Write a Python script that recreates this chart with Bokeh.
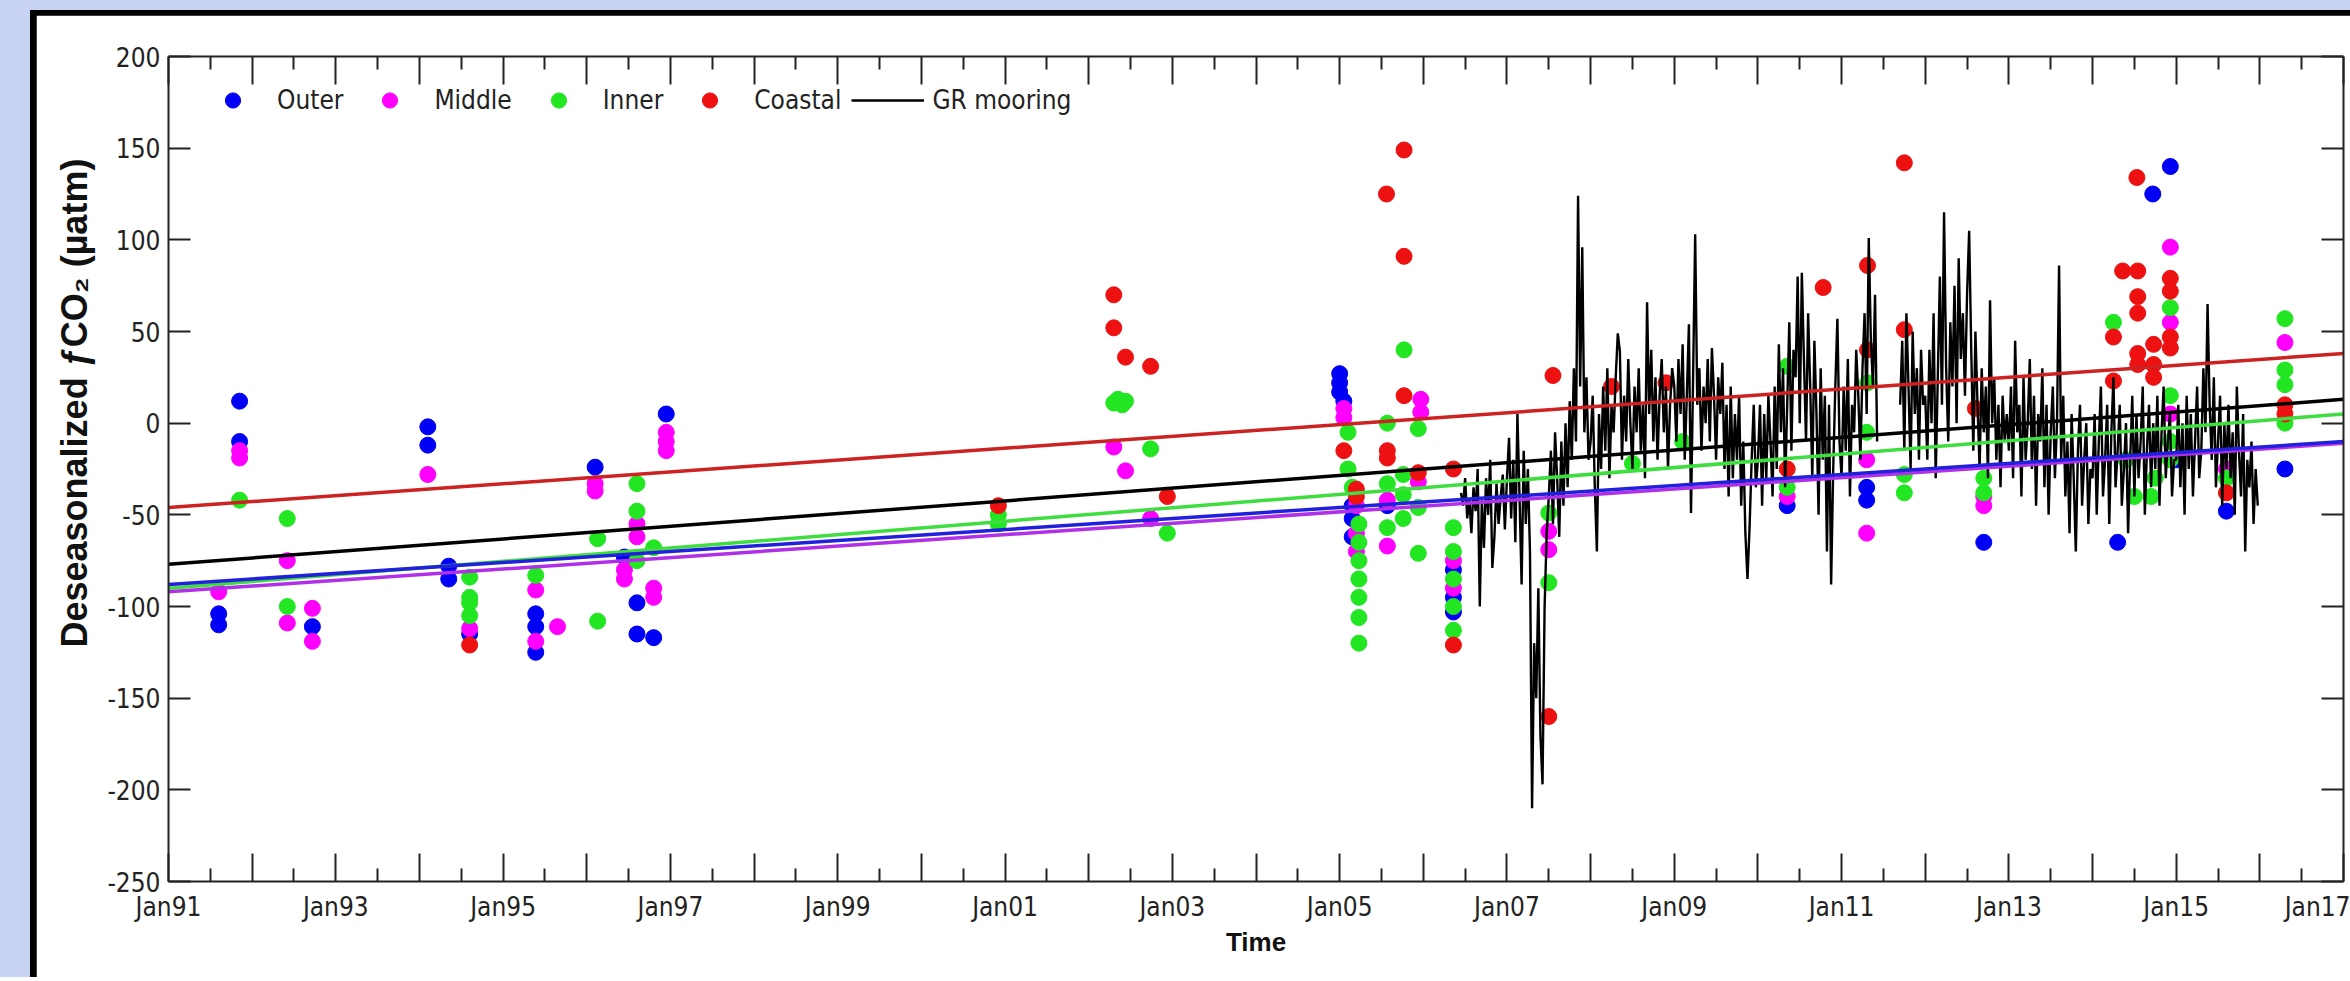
from bokeh.plotting import figure
from bokeh.models import (FixedTicker, LinearAxis, Legend, LegendItem, Title, Range1d)
from bokeh.layouts import column
from bokeh.embed import file_html
from bokeh.resources import INLINE

nan = float("nan")

# ---------------- data ----------------
x_tick_years = list(range(1991, 2018))
x_tick_labels = ["Jan91", "Jan93", "Jan95", "Jan97", "Jan99", "Jan01", "Jan03",
                 "Jan05", "Jan07", "Jan09", "Jan11", "Jan13", "Jan15", "Jan17"]
y_ticks = [-250, -200, -150, -100, -50, 0, 50, 100, 150, 200]
y_tick_labels = ["-250", "-200", "-150", "-100", "-50", "0", "50", "100", "150", "200"]

outer_year = [1991.6, 1991.6, 1991.85, 1991.85, 1992.72, 1994.1, 1994.1, 1994.35, 1994.35,
              1994.6, 1995.39, 1995.39, 1995.39, 1996.1, 1996.45, 1996.6, 1996.6, 1996.8, 1996.95,
              2005.0, 2005.0, 2005.0, 2005.05, 2005.15, 2005.15, 2005.15, 2005.57, 2006.36, 2006.36,
              2006.36, 2010.35, 2011.3, 2011.3, 2012.7, 2014.3, 2014.72, 2014.93, 2015.0, 2015.6, 2016.3]
outer_value = [-104, -110, 12, -10, -111, -2, -12, -78, -85,
               -115, -104, -111, -125, -24, -73, -98, -115, -117, 5,
               27, 22, 17, 12, -45, -52, -62, -45, -80, -95,
               -103, -45, -42, -35, -65, -65, 125, 140, -20, -48, -25]

middle_year = [1991.6, 1991.85, 1991.85, 1992.42, 1992.42, 1992.72, 1992.72, 1994.1, 1994.6, 1995.39,
               1995.39, 1995.65, 1996.1, 1996.1, 1996.45, 1996.45, 1996.6, 1996.6, 1996.8, 1996.8,
               1996.95, 1996.95, 1996.95, 2002.3, 2002.44, 2002.74, 2005.05, 2005.05, 2005.2, 2005.2,
               2005.2, 2005.57, 2005.57, 2005.97, 2005.97, 2005.94, 2006.36, 2006.36, 2007.5, 2007.5,
               2010.35, 2011.3, 2011.3, 2012.7, 2012.7, 2014.93, 2014.93, 2014.93, 2015.6, 2016.3]
middle_value = [-92, -15, -19, -75, -109, -101, -119, -28, -112, -91,
                -119, -111, -33, -37, -80, -85, -55, -62, -90, -95,
                -5, -10, -15, -13, -26, -52, 8, 3, -45, -60,
                -70, -42, -67, 13, 6, -32, -75, -90, -59, -69,
                -40, -20, -60, -45, -40, 96, 55, 5, -25, 44]

inner_year = [1991.85, 1992.42, 1992.42, 1994.6, 1994.6, 1994.6, 1994.6, 1995.39, 1996.13, 1996.13,
              1996.6, 1996.6, 1996.6, 1996.8, 2000.92, 2000.92, 2002.3, 2002.35, 2002.4, 2002.44,
              2002.74, 2002.94, 2005.1, 2005.1, 2005.15, 2005.23, 2005.23, 2005.23, 2005.23, 2005.23,
              2005.23, 2005.23, 2005.57, 2005.57, 2005.57, 2005.77, 2005.76, 2005.76, 2005.76, 2005.94,
              2005.94, 2005.94, 2006.36, 2006.36, 2006.36, 2006.36, 2006.36, 2007.5, 2007.5, 2008.5,
              2009.1, 2010.35, 2010.35, 2011.31, 2011.3, 2011.75, 2011.75, 2012.7, 2012.7, 2014.25,
              2014.4, 2014.5, 2014.7, 2014.75, 2014.93, 2014.93, 2014.93, 2014.93, 2015.6, 2016.3,
              2016.3, 2016.3, 2016.3]
inner_value = [-42, -52, -100, -84, -95, -98, -105, -83, -63, -108,
               -33, -48, -75, -68, -55, -50, 11, 13, 10, 12,
               -14, -60, -5, -25, -35, -55, -65, -75, -85, -95,
               -106, -120, 0, -33, -57, 40, -28, -39, -52, -3,
               -46, -71, -57, -70, -85, -100, -113, -49, -87, -22,
               -10, 31, -35, 22, -5, -38, -28, -30, -38, 55,
               -20, -40, -40, -30, 63, 15, -10, -20, -30, 57,
               29, 21, 0]

coastal_year = [1994.6, 2000.92, 2002.3, 2002.3, 2002.44, 2002.74, 2002.94, 2005.05, 2005.2, 2005.2,
                2005.56, 2005.77, 2005.77, 2005.77, 2005.57, 2005.57, 2005.94, 2006.36, 2006.36, 2007.55,
                2007.5, 2008.25, 2008.9, 2010.35, 2010.78, 2011.31, 2011.31, 2011.75, 2011.75, 2012.6,
                2014.25, 2014.25, 2014.36, 2014.54, 2014.53, 2014.54, 2014.54, 2014.54, 2014.54, 2014.73,
                2014.73, 2014.73, 2014.93, 2014.93, 2014.93, 2014.93, 2015.6, 2016.3, 2016.3]
coastal_value = [-121, -45, 70, 52, 36, 31, -40, -15, -36, -40,
                 125, 149, 91, 15, -15, -19, -27, -25, -121, 26,
                 -160, 20, 22, -25, 74, 86, 40, 142, 51, 8,
                 47, 23, 83, 83, 134, 69, 60, 38, 32, 43,
                 32, 25, 79, 72, 47, 41, -38, 10, 5]

# GR mooring: values sampled every 0.025 yr, one list per year (first one starts 2006.45)
mooring_step = 0.025
mooring_starts = [2006.45, 2007.0, 2008.0, 2009.0, 2010.0, 2011.0, 2012.0, 2013.0, 2014.0, 2015.0]
mooring_2006 = [-38, -45, -30, -52, -41, -60, -35, -48, -25, -100, -42, -68, -30, -50, -20, -79,
                -62, -33, -55, -40, -28, -58]
mooring_2007 = [-30, -8, -52, -20, -65, 5, -40, -88, -15, -55, -25, -70, -210, -120, -150, -90,
                -170, -197, -100, -60, -40, -15, -55, -5, -30, -62, -10, -45, 0, -35, 12, -20,
                30, -10, 124, 20, 96, -5, 25, -20]
mooring_2008 = [-10, 15, -35, -70, 5, -25, 20, -15, 30, -30, 10, -5, 25, 49, 39, -20, 15, -10,
                35, 0, -25, 20, -5, 30, -15, 10, -30, 66, 5, 40, -10, 25, -20, 15, 35, -5, 20,
                -25, 10, 30]
mooring_2009 = [20, -10, 35, 5, 43, -20, 15, 54, -49, 25, 103, 10, 30, -15, 20, 0, 35, -10, 41,
                15, -20, 25, 5, 33, -25, 10, -40, 20, -30, 5, -20, 15, -45, -10, -60, -85, -57,
                -20, 10, -35]
mooring_2010 = [-20, 10, -45, 5, -30, 15, -10, -40, 20, -25, 43, -5, 30, -35, 10, 55, -15, 40,
                25, 80, 0, 82, 35, -10, 60, 20, -30, 45, 5, -50, 30, -20, 15, -70, 10, -88, -25,
                20, 57, -10]
mooring_2011 = [-30, 20, -15, 35, -40, 10, -5, 40, 15, -20, 30, 60, 5, 101, 45, 20, 70, -10,
                nan, nan, nan, nan, nan, nan, nan, nan, nan, nan,
                10, 45, -15, 60, 20, -25, 50, 5, 30, -20, 40, 10]
mooring_2012 = [15, -20, 40, 0, 60, -30, 25, 80, 10, 115, 30, -10, 55, 20, 75, 0, 90, 35, 60,
                15, 70, 105, 40, -15, 50, 10, -25, 30, -5, 20, -30, 67, 0, 25, -20, 10, -35, 15,
                -10, 5]
mooring_2013 = [-15, 20, -30, 45, -5, 10, -40, 25, -20, 0, 35, -25, 15, -45, 5, -10, 30, -35,
                10, -50, -5, 20, -30, 0, 86, -20, 15, -40, -10, -60, 5, -30, -70, -15, 10, -45,
                -20, 0, -55, -25]
mooring_2014 = [-30, 5, -50, -10, 20, -40, -20, 10, -55, -5, 25, -35, -15, 10, -45, -25, 0, -60,
                -20, 15, -40, 5, -30, -10, 20, -50, -15, 10, -35, 0, -25, 15, -45, -5, 20, -30,
                -10, 5, -40, -20]
mooring_2015 = [-20, 10, -35, 0, -50, 15, -25, 5, -40, -10, 20, -30, -15, 30, -5, 65, 10, -20,
                25, -35, -10, 15, -45, 0, -25, 10, -30, -5, -50, 20, -15, -40, 5, -70, -20, -35,
                -10, -55, -25, -45]
mooring_segments = [mooring_2006, mooring_2007, mooring_2008, mooring_2009, mooring_2010,
                    mooring_2011, mooring_2012, mooring_2013, mooring_2014, mooring_2015]

# linear trends (value at Jan91 and at Jan17)
trend_years = [1991, 2017]
outer_trend = [-88, -10]
middle_trend = [-92, -11]
inner_trend = [-90, 5]
coastal_trend = [-46, 38]
mooring_trend = [-77, 13]

# ---------------- styling ----------------
NARROW = "DejaVu Sans Condensed, Liberation Sans, sans-serif"
SANS = "Liberation Sans"
C_OUTER = "#0000F5"
C_MIDDLE = "#FF00FF"
C_INNER = "#22E622"
C_COASTAL = "#EE1111"
AX = "#222222"

p = figure(width=2314, height=962, x_range=Range1d(1991, 2017), y_range=Range1d(-250, 200),
           output_backend="svg", toolbar_location=None,
           min_border_left=132, min_border_right=7, min_border_top=41, min_border_bottom=96)
p.margin = (5, 0, 0, 6)
p.background_fill_color = "white"
p.border_fill_color = "white"
p.outline_line_color = None
p.xgrid.visible = False
p.ygrid.visible = False

x_overrides = {}
for i, yr in enumerate(x_tick_years):
    x_overrides[yr] = x_tick_labels[i // 2] if (yr - x_tick_years[0]) % 2 == 0 else ""
x_minor = [yr + 0.5 for yr in x_tick_years[:-1]]
y_overrides = {t: lab for t, lab in zip(y_ticks, y_tick_labels)}

def style_x(ax, labels=True):
    ax.ticker = FixedTicker(ticks=x_tick_years, minor_ticks=x_minor)
    ax.major_tick_in = 28
    ax.major_tick_out = 0
    ax.minor_tick_in = 13
    ax.minor_tick_out = 0
    ax.axis_line_color = AX
    ax.axis_line_width = 2
    ax.major_tick_line_color = AX
    ax.major_tick_line_width = 2
    ax.minor_tick_line_color = AX
    ax.minor_tick_line_width = 2
    if labels:
        ax.major_label_overrides = x_overrides
        ax.major_label_text_font = NARROW
        ax.major_label_text_font_size = "26px"
        ax.major_label_text_color = "#222222"
        ax.major_label_standoff = 10
    else:
        ax.major_label_overrides = {yr: "" for yr in x_tick_years}
        ax.major_label_text_color = None
        ax.major_label_standoff = 0

def style_y(ax, labels=True):
    ax.ticker = FixedTicker(ticks=y_ticks, minor_ticks=[])
    ax.major_tick_in = 22
    ax.major_tick_out = 0
    ax.minor_tick_in = 0
    ax.minor_tick_out = 0
    ax.axis_line_color = AX
    ax.axis_line_width = 2
    ax.major_tick_line_color = AX
    ax.major_tick_line_width = 2
    if labels:
        ax.major_label_overrides = y_overrides
        ax.major_label_text_font = NARROW
        ax.major_label_text_font_size = "26px"
        ax.major_label_text_color = "#222222"
        ax.major_label_standoff = 8
    else:
        ax.major_label_overrides = {t: "" for t in y_ticks}
        ax.major_label_text_color = None
        ax.major_label_standoff = 0

style_x(p.xaxis[0])
style_y(p.yaxis[0])
p.xaxis[0].axis_label = "Time"
p.xaxis[0].axis_label_text_font = SANS
p.xaxis[0].axis_label_text_font_style = "bold"
p.xaxis[0].axis_label_text_font_size = "26px"
p.xaxis[0].axis_label_text_color = "#111111"
p.xaxis[0].axis_label_standoff = 2

top_ax = LinearAxis()
style_x(top_ax, labels=False)
p.add_layout(top_ax, "above")
right_ax = LinearAxis()
style_y(right_ax, labels=False)
p.add_layout(right_ax, "right")

ylab = Title(text="Deseasonalized \u0192CO\u2082 (\u00b5atm)", align="left", offset=234, standoff=20,
             text_font=SANS, text_font_style="bold", text_font_size="36px", text_color="#111111")
p.add_layout(ylab, "left")

# scatter points
r_outer = p.scatter(outer_year, outer_value, marker="circle", size=16,
                    fill_color=C_OUTER, line_color=C_OUTER)
r_middle = p.scatter(middle_year, middle_value, marker="circle", size=16,
                     fill_color=C_MIDDLE, line_color=C_MIDDLE)
r_inner = p.scatter(inner_year, inner_value, marker="circle", size=16,
                    fill_color=C_INNER, line_color=C_INNER)
r_coastal = p.scatter(coastal_year, coastal_value, marker="circle", size=16,
                      fill_color=C_COASTAL, line_color=C_COASTAL)

# mooring time series
m_x, m_y = [], []
for start, seg in zip(mooring_starts, mooring_segments):
    for i, v in enumerate(seg):
        m_x.append(start + i * mooring_step)
        m_y.append(v)
r_moor = p.line(m_x, m_y, line_color="black", line_width=2.4)

# trend lines
p.line(trend_years, coastal_trend, line_color="#CC2222", line_width=3.5)
p.line(trend_years, mooring_trend, line_color="black", line_width=3.5)
p.line(trend_years, inner_trend, line_color="#3FDD3F", line_width=3.5)
p.line(trend_years, middle_trend, line_color="#B030E8", line_width=3.5)
p.line(trend_years, outer_trend, line_color="#2020DD", line_width=3.5)

legend = Legend(items=[LegendItem(label="Outer", renderers=[r_outer]),
                       LegendItem(label="Middle", renderers=[r_middle]),
                       LegendItem(label="Inner", renderers=[r_inner]),
                       LegendItem(label="Coastal", renderers=[r_coastal]),
                       LegendItem(label="GR mooring", renderers=[r_moor])],
                orientation="horizontal", location=(28, 762),
                glyph_width=73, glyph_height=38, label_height=38, label_standoff=8, spacing=10,
                padding=0, margin=0, border_line_color=None, background_fill_alpha=0,
                label_text_font=NARROW, label_text_font_size="26px", label_text_color="#222222")
p.add_layout(legend)

inner_box = column(p, styles={"background-color": "black", "overflow": "hidden"})
inner_box.margin = (10, 0, 0, 30)
root = column(inner_box, styles={"background-color": "#C8D2F2", "overflow": "hidden"})

open("out.html", "w").write(file_html(root, INLINE))
